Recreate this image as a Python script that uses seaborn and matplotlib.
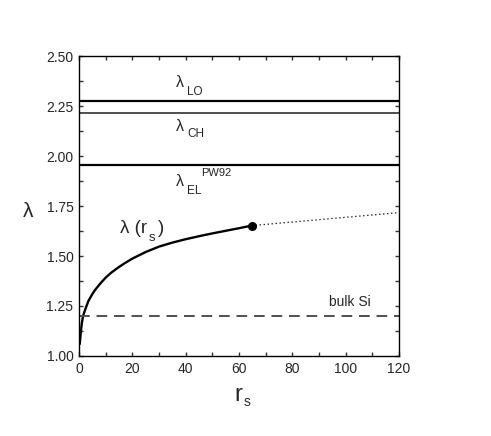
import numpy as np
import pandas as pd
import matplotlib
matplotlib.use("Agg")
import matplotlib.pyplot as plt
from matplotlib.ticker import MultipleLocator, FormatStrFormatter
import seaborn as sns

# lambda(r_s) curve
rs_vals = [0.25, 0.6, 1.0, 1.5, 2.25, 3.5, 5.0, 6.0, 8.0, 10.0, 12.0, 14.75, 17.0,
           20.0, 25.0, 30.0, 35.0, 40.0, 45.0, 50.0, 55.0, 60.0, 64.75]
lam_vals = [1.06, 1.11, 1.16, 1.20, 1.23, 1.275, 1.31, 1.33, 1.363, 1.392, 1.416, 1.443, 1.463,
            1.487, 1.52, 1.547, 1.567, 1.584, 1.599, 1.613, 1.626, 1.639, 1.652]

# dotted extrapolation
rs_ext = [64.75, 120.0]
lam_ext = [1.652, 1.717]

# horizontal reference levels
lam_LO = 2.275
lam_CH = 2.217
lam_EL = 1.957
lam_bulk_si = 1.20

sns.set_theme(style="ticks")
plt.rcParams["font.family"] = ["Liberation Sans", "DejaVu Sans"]

fig = plt.figure(figsize=(4.91, 4.36), dpi=100)
ax = fig.add_axes([0.161, 0.1835, 0.6515, 0.688])

df = pd.DataFrame({"rs": rs_vals, "lam": lam_vals})
sns.lineplot(data=df, x="rs", y="lam", ax=ax, color="black", lw=1.7, sort=True)
ax.plot(rs_ext, lam_ext, color="black", lw=0.9, ls=(0, (1, 2.2)))
ax.plot(rs_vals[-1], lam_vals[-1], "o", color="black", ms=5.5)

ax.axhline(lam_LO, color="black", lw=1.6)
ax.axhline(lam_CH, color="#404040", lw=1.3)
ax.axhline(lam_EL, color="black", lw=1.6)
ax.axhline(lam_bulk_si, color="#505050", lw=1.4, ls=(0, (5.5, 3.5)))

ax.set_xlim(0, 120)
ax.set_ylim(1.0, 2.5)
ax.xaxis.set_major_locator(MultipleLocator(20))
ax.xaxis.set_minor_locator(MultipleLocator(10))
ax.yaxis.set_major_locator(MultipleLocator(0.25))
ax.yaxis.set_minor_locator(MultipleLocator(0.125))
ax.yaxis.set_major_formatter(FormatStrFormatter("%.2f"))

ax.tick_params(which="both", direction="in", top=True, right=True,
               length=3, width=1, color="#333333")
ax.tick_params(which="major", labelsize=10, pad=4)
for s in ax.spines.values():
    s.set_linewidth(1.0)
    s.set_color("black")

ax.set_xlabel("")
ax.set_ylabel("")
fig.text(0.057, 0.515, "λ", fontsize=15, ha="center", va="center")
fig.text(0.485, 0.095, "r", fontsize=17, ha="center", va="center")
fig.text(0.503, 0.078, "s", fontsize=10, ha="center", va="center")

# annotations
ax.text(37.9, 2.37, "λ", fontsize=11.5, ha="center", va="center")
ax.text(40.5, 2.32, "LO", fontsize=8.5, ha="left", va="center")
ax.text(37.9, 2.15, "λ", fontsize=11.5, ha="center", va="center")
ax.text(40.5, 2.11, "CH", fontsize=8.5, ha="left", va="center")
ax.text(37.9, 1.875, "λ", fontsize=11.5, ha="center", va="center")
ax.text(40.5, 1.825, "EL", fontsize=8.5, ha="left", va="center")
ax.text(45.8, 1.915, "PW92", fontsize=8, ha="left", va="center")

ax.text(15.5, 1.64, "λ (r", fontsize=13.5, ha="left", va="center")
ax.text(26.2, 1.592, "s", fontsize=9.5, ha="left", va="center")
ax.text(29.5, 1.64, ")", fontsize=13.5, ha="left", va="center")

ax.text(93.7, 1.27, "bulk Si", fontsize=10, ha="left", va="center")

fig.savefig("out.png", dpi=100)
